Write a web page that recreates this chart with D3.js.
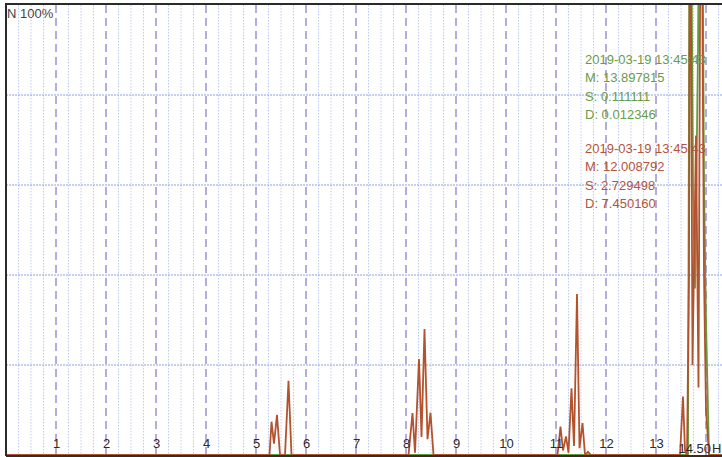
<!DOCTYPE html>
<html>
<head>
<meta charset="utf-8">
<script src="https://cdn.jsdelivr.net/npm/d3@7"></script>
<style>
html,body{margin:0;padding:0;background:#fff;}
svg{display:block;font-family:"Liberation Sans",Arial,sans-serif;}
</style>
</head>
<body>
<svg id="chart" width="722" height="457"></svg>
<script>
// ---- data ----
const xTickValues = [1,2,3,4,5,6,7,8,9,10,11,12,13];
const xMaxLabel = "14.50";
const xUnit = "H";
const yLabel = "N 100%";
const yGridValues = [20,40,60,80];

const redX = [0,5.2,5.27,5.31,5.36,5.42,5.48,5.58,5.65,5.71,5.78,
  8.05,8.13,8.18,8.26,8.31,8.37,8.43,8.49,8.55,
  11.03,11.09,11.14,11.2,11.25,11.31,11.36,11.42,11.47,11.53,11.58,11.64,11.7,
  13.48,13.54,13.58,13.62,13.66,13.68,13.73,13.8,13.85,13.9,13.96,14.0,14.06,14.5];
const redY = [0,0,0,7.4,2.5,8.9,0,0,16.5,0,0,
  0,9.3,0.5,21.3,4,28,3.5,9.4,0,
  0,6.3,1,4.1,0.5,14.8,2,35.8,1.5,7.1,0,0.7,0,
  0,13,1,0,40,150,20,71,15,150,40,10,0,0];

const greenX = [0,13.6,13.64,13.68,13.74,13.78,13.84,13.9,13.96,14.0,14.06,14.5];
const greenY = [0,0,0,160,60,37,90,180,60,30,0,0];

const greenInfo = ["2019-03-19 13:45:43","M: 13.897815","S: 0.111111","D: 0.012346"];
const redInfo = ["2019-03-19 13:45:43","M: 12.008792","S: 2.729498","D: 7.450160"];

// ---- layout ----
const svg = d3.select("#chart");
const padL = 6, padT = 5, padB = 455;
const x = d3.scaleLinear().domain([0,14.5]).range([padL, padL + 14.5*50]);
const y = d3.scaleLinear().domain([0,100]).range([padB, padT]);

const g = svg.append("g");
svg.append("defs").append("clipPath").attr("id","clip")
  .append("rect").attr("x",padL).attr("y",padT).attr("width",722-padL).attr("height",padB-padT);

// minor vertical grid
const minor = d3.range(0, 14.5001, 0.25).filter(v => Math.abs(v - Math.round(v)) > 1e-6);
g.selectAll("line.minor").data(minor).enter().append("line")
  .attr("x1", d => x(d)).attr("x2", d => x(d))
  .attr("y1", padT).attr("y2", padB)
  .attr("stroke", "#bccbf3").attr("stroke-width", 1).attr("stroke-dasharray","1.5,1.5");

// horizontal grid
g.selectAll("line.hgrid").data(yGridValues).enter().append("line")
  .attr("x1", padL).attr("x2", 722)
  .attr("y1", d => y(d)).attr("y2", d => y(d))
  .attr("stroke", "#8aa2e8").attr("stroke-width", 1).attr("stroke-dasharray","2,1");

// major dashed vertical lines
g.selectAll("line.major").data(d3.range(1,15)).enter().append("line")
  .attr("x1", d => x(d)).attr("x2", d => x(d))
  .attr("y1", padT).attr("y2", padB)
  .attr("stroke", "#b3acdf").attr("stroke-width", 2).attr("stroke-dasharray","8,5");

// series
const line = d3.line().x(d => x(d[0])).y(d => y(d[1]));
const greenData = greenX.map((v,i) => [v, greenY[i]]);
const redData = redX.map((v,i) => [v, redY[i]]);
const series = svg.append("g").attr("clip-path","url(#clip)");
series.append("path").datum(greenData).attr("d", line)
  .attr("fill","none").attr("stroke","#619d3c").attr("stroke-width",1.8);
series.append("path").datum(redData).attr("d", line)
  .attr("fill","none").attr("stroke","#b3532d").attr("stroke-width",1.8);

// borders
svg.append("line").attr("x1",padL).attr("x2",722).attr("y1",4).attr("y2",4)
  .attr("stroke","#2a2a2a").attr("stroke-width",2);
svg.append("line").attr("x1",padL).attr("x2",padL).attr("y1",3).attr("y2",456)
  .attr("stroke","#2a2a2a").attr("stroke-width",2);
svg.append("line").attr("x1",padL).attr("x2",722).attr("y1",padB+1).attr("y2",padB+1)
  .attr("stroke","#3a2a22").attr("stroke-width",2);

// x labels via axis
const axis = d3.axisBottom(x).tickValues(xTickValues).tickSize(0).tickPadding(0).tickFormat(d3.format("d"));
const ax = svg.append("g").attr("transform", `translate(0,${padB - 16})`).call(axis);
ax.attr("font-size", 13).attr("font-family", "Liberation Sans, Arial, sans-serif");
ax.select(".domain").remove();
ax.selectAll("text").attr("fill", "#2a2a2a").attr("dy","0.71em");
svg.append("text").attr("x", 711).attr("y", 453).attr("text-anchor","end")
  .attr("font-size",13).attr("fill","#2a2a2a").text(xMaxLabel);
svg.append("text").attr("x", 712).attr("y", 453)
  .attr("font-size",13).attr("fill","#2a2a2a").text(xUnit);

// y label
svg.append("text").attr("x", 7).attr("y", 18).attr("font-size", 13).attr("fill","#444").text(yLabel);

// info blocks
svg.append("g").selectAll("text").data(greenInfo).enter().append("text")
  .attr("x", 585).attr("y", (d,i) => 64 + i*18.3)
  .attr("font-size", 13).attr("fill", "#6a9c48").text(d => d);
svg.append("g").selectAll("text").data(redInfo).enter().append("text")
  .attr("x", 585).attr("y", (d,i) => 153 + i*18.3)
  .attr("font-size", 13).attr("fill", "#b2553a").text(d => d);
</script>
</body>
</html>
